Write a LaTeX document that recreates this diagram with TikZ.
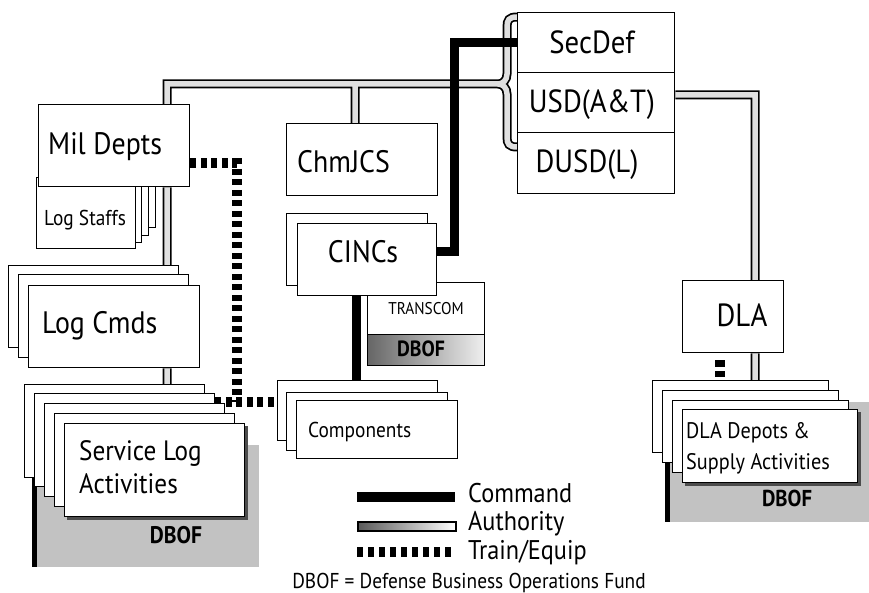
\documentclass[tikz,border=0pt]{standalone}
\usepackage{fontspec}
\setmainfont{PT Sans}[FakeStretch=0.9]
\usetikzlibrary{calc}
\pgfdeclarelayer{bg}
\pgfdeclarelayer{conn}
\pgfsetlayers{bg,conn,main}
\tikzset{
  bx/.style={draw, fill=white, line width=1.4pt, inner sep=0pt, anchor=north west},
  dbofarea/.style={fill=black!24, draw=none, inner sep=0pt, anchor=north west},
  lbl/.style={inner sep=0pt, text depth=0pt, anchor=west},
  clbl/.style={lbl, anchor=center},
  fs/.style={font=\fontsize{#1}{#1}\selectfont, text height={#1*0.7pt}},
  fsb/.style={font=\bfseries\fontsize{#1}{#1}\selectfont, text height={#1*0.7pt}},
  authout/.style={line width=9pt, draw=black},
  authin/.style={line width=5.5pt, draw=black!12},
  cmdline/.style={line width=9pt, draw=black},
  trainline/.style={line width=9.5pt, draw=black, dash pattern=on 6pt off 4.5pt},
}
\newcommand\drawbox[5]{\node[bx, minimum width={(#4-#2)*1pt}, minimum height={(#5-#3)*1pt}] (#1) at (#2,#3) {};}
\begin{document}
\begin{tikzpicture}[x=1pt,y=-1pt]
\begin{pgfonlayer}{bg}
\fill[white] (0,0) rectangle (869,593);
\end{pgfonlayer}
\useasboundingbox (0,0) rectangle (869,593);

% ---------- DBOF areas ----------
\node[dbofarea, minimum width=227pt, minimum height=122pt] (sdbof) at (32,445) {};
\fill[black] (32,445) rectangle (37,567);
\node[dbofarea, minimum width=204pt, minimum height=120pt] (ddbof) at (665,402) {};
\fill[black] (665,402) rectangle (670,522);

% ---------- Service Log Activities ----------
\drawbox{sl0}{24}{384}{204}{477}
\drawbox{sl1}{34}{393}{214}{486}
\drawbox{sl2}{44}{403}{224}{496}
\drawbox{sl3}{54}{413}{234}{506}
\fill[black!70] (67,426) rectangle (248,520);
\drawbox{sl4}{64}{423}{244}{516}
\node[lbl, fs=28] (slt1) at (79,451) {Service Log};
\node[lbl, fs=28] (slt2) at (79,484) {Activities};
\node[clbl, fsb=24] (sdbt) at (176,535) {DBOF};

% ---------- Log Cmds ----------
\drawbox{lc0}{8}{265}{178}{347}
\drawbox{lc1}{18}{274}{188}{357}
\drawbox{lc2}{28}{285}{199}{367}
\node[lbl, fs=31] (lct) at (42,323) {Log Cmds};

% ---------- Log Staffs ----------
\drawbox{ls3}{55}{156}{155}{227}
\drawbox{ls2}{48}{163}{148}{235}
\drawbox{ls1}{42}{170}{141}{242}
\drawbox{ls0}{36}{177}{135}{248}
\node[lbl, fs=21.5] (lst) at (44,218) {Log Staffs};

% ---------- Mil Depts ----------
\drawbox{mil}{38}{104}{189}{186}
\node[lbl, fs=31] (milt) at (48,144) {Mil Depts};

% ---------- ChmJCS ----------
\drawbox{chm}{286}{123}{437}{195}
\node[lbl, fs=31] (chmt) at (297,162) {ChmJCS};

% ---------- TRANSCOM ----------
\drawbox{trc}{367}{282}{484}{334}
\node[bx, minimum width=117pt, minimum height=31pt, left color=black!60, right color=black!6] (tdb) at (367,334) {};
\node[clbl, fs=17] (trct) at (426,309) {TRANSCOM};
\node[clbl, fsb=22] (tdbt) at (421,349) {DBOF};

% ---------- CINCs ----------
\drawbox{cb}{286}{213}{427}{285}
\drawbox{cf}{297}{223}{436}{295}
\node[clbl, fs=31] (cft) at (363,252) {CINCs};

% ---------- Components ----------
\drawbox{cp0}{277}{380}{437}{440}
\drawbox{cp1}{286}{392}{447}{450}
\drawbox{cp2}{296}{400}{457}{458}
\node[lbl, fs=21.5] (cpt) at (308,430) {Components};

% ---------- SecDef stack ----------
\drawbox{sec}{517}{12}{674}{72}
\drawbox{usd}{517}{72}{674}{132}
\drawbox{dusd}{517}{132}{674}{193}
\node[clbl, fs=32] (sect) at (592,42) {SecDef};
\node[clbl, fs=32] (usdt) at (592,101) {USD(A\&T)};
\node[clbl, fs=32] (dusdt) at (587,161) {DUSD(L)};

% ---------- DLA ----------
\drawbox{dla}{682}{280}{783}{352}
\node[clbl, fs=32] (dlat) at (742,315) {DLA};

% ---------- DLA Depots ----------
\drawbox{dd0}{652}{380}{828}{452}
\drawbox{dd1}{662}{390}{838}{462}
\drawbox{dd2}{672}{400}{848}{472}
\fill[black!70] (685,412) rectangle (861,486);
\drawbox{dd3}{682}{409}{857}{482}
\node[lbl, fs=22.5] (ddt1) at (686,431) {DLA Depots \&};
\node[lbl, fs=22.5] (ddt2) at (686,462) {Supply Activities};
\node[clbl, fsb=23] (ddbt) at (787,498) {DBOF};

% ---------- connector axes ----------
\coordinate (axA) at (167,84);
\coordinate (axB) at (355,84);
\coordinate (cusp) at (498,84);
\coordinate (axF) at (755,95);
\coordinate (axC) at (454,252);
\coordinate (axD) at (356,0);
\coordinate (trC) at (237,163);
\coordinate (trD) at (237,402);
\coordinate (trE) at (720,0);
\coordinate (brtop) at (517,17);
\coordinate (brbot) at (517,147);

\newcommand\authpaths{%
  (mil.north -| axA) -- (axA) -- (cusp)
  (axB) -- (chm.north -| axB)
  (brtop) .. controls (509,17) and (507,20) .. (507,27) -- (507,74)
     .. controls (507,80) and (503,84) .. (cusp)
     .. controls (503,84) and (507,88) .. (507,94) -- (507,137)
     .. controls (507,144) and (509,147) .. (brbot)
  (mil.south -| axA) -- (lc0.north -| axA)
  (lc2.south -| axA) -- (sl0.north -| axA)
  (usd.east |- axF) -- (axF) -- (dla.north -| axF)
  (dla.south -| axF) -- (dd0.north -| axF)}

\begin{pgfonlayer}{conn}
\draw[authout] \authpaths;
\draw[authin] \authpaths;
\draw[cmdline] (sec.west) -| (axC) -- (cf.east |- axC);
\draw[cmdline] (cf.south -| axD) -- (cp0.north -| axD);
\draw[trainline] (mil.east |- trC) -- (trC) -- (trD);
\draw[trainline] (sl1.east |- trD) -- (cp0.west |- trD);
\draw[trainline, dash pattern=on 7pt off 4pt, shorten <=7pt, shorten >=3pt] (dla.south -| trE) -- (dd0.north -| trE);
\end{pgfonlayer}

% ---------- legend ----------
\coordinate (lgc1) at (357,497);
\coordinate (lgc2) at (455,497);
\coordinate (lgt1) at (357,552);
\coordinate (lgt2) at (455,552);
\draw[cmdline, line width=10pt] (lgc1) -- (lgc2);
\node[draw, line width=1.5pt, inner sep=0pt, anchor=north west, minimum width=98pt, minimum height=9pt, left color=black!65, right color=white] (lga) at (357,521) {};
\draw[trainline, line width=10pt, dash pattern=on 6pt off 5pt] (lgt1) -- (lgt2);
\node[lbl, fs=27] (lgct) at (468,493) {Command};
\node[lbl, fs=27] (lgat) at (468,521) {Authority};
\node[lbl, fs=27] (lgtt) at (468,550) {Train/Equip};
\node[clbl, fs=21.5] (note) at (469,581) {DBOF = Defense Business Operations Fund};
\end{tikzpicture}
\end{document}
